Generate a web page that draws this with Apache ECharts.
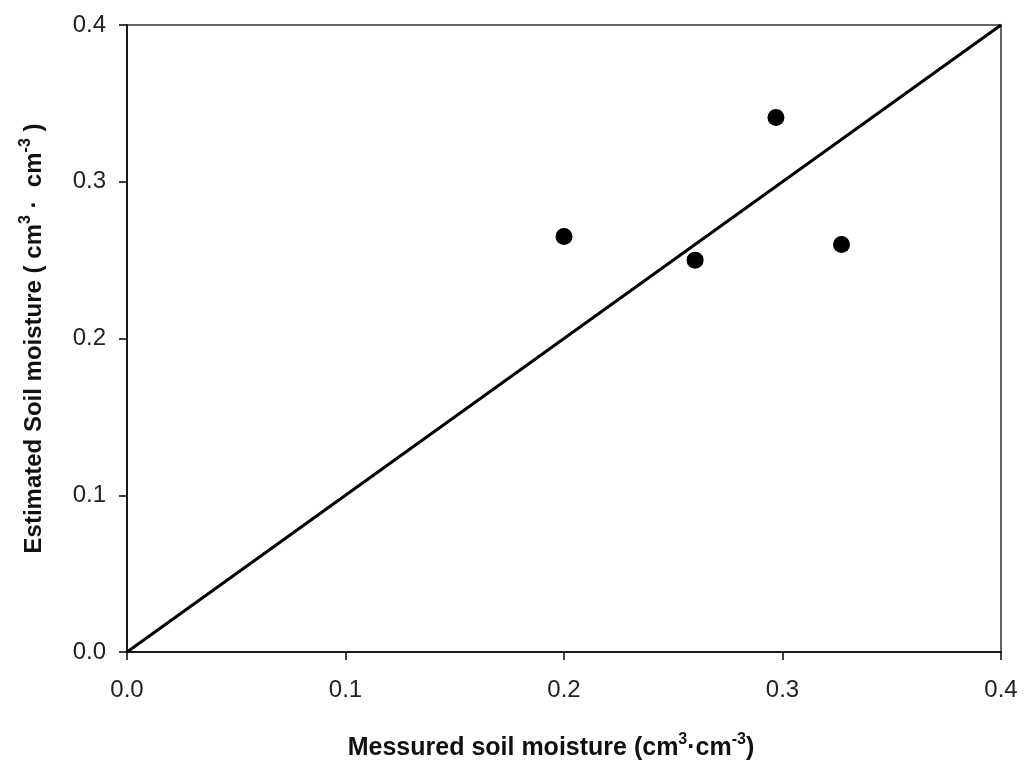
<!DOCTYPE html>
<html>
<head>
<meta charset="utf-8">
<script src="https://cdn.jsdelivr.net/npm/echarts@6/dist/echarts.min.js"></script>
<style>
  html, body { margin: 0; padding: 0; background: #fff; }
  #chart { width: 1024px; height: 772px; }
</style>
</head>
<body>
<div id="chart"></div>
<script>
// measured vs estimated soil moisture
const measured = [0.200, 0.260, 0.297, 0.327]
const estimated = [0.265, 0.250, 0.341, 0.260]
// 1:1 line ends
const lineX = [0.0, 0.4]
const lineY = [0.0, 0.4]
const tickStep = 0.1

let chart = echarts.init(document.getElementById('chart'))

let points = measured.map((v, i) => [v, estimated[i]])
let oneToOne = lineX.map((v, i) => [v, lineY[i]])

// axis title styles, sup = superscript
function titleRich(size){
    return {
        b: { fontFamily: 'Liberation Sans', fontWeight: 'bold', fontSize: size, color: '#111', lineHeight: 32 },
        sup: { fontFamily: 'Liberation Sans', fontWeight: 'bold', fontSize: 16, color: '#111', verticalAlign: 'top', lineHeight: 32, padding: [0, 0, 14, 0] }
    }
}

let tickLabel = {
    color: '#222',
    fontFamily: 'Liberation Sans',
    fontSize: 24,
    formatter: v => v.toFixed(1)
}

let option = {
    animation: false,
    grid: {
        left: 127,
        right: 23,
        top: 25,
        bottom: 120,
        containLabel: false,
        outerBoundsMode: 'none',
        show: true,
        borderColor: '#333',
        borderWidth: 1.5
    },
    xAxis: {
        type: 'value',
        min: 0,
        max: 0.4,
        interval: tickStep,
        name: '{b|Messured soil moisture (cm}{sup|3}{b|·cm}{sup|-3}{b|)}',
        nameLocation: 'middle',
        nameGap: 80,
        nameTextStyle: { rich: titleRich(25), padding: [0, 26, 0, 0] },
        axisLine: { lineStyle: { color: '#000', width: 1.5 } },
        axisTick: { show: true, inside: false, length: 8, lineStyle: { color: '#000', width: 1.5 } },
        splitLine: { show: false },
        axisLabel: Object.assign({ margin: 26 }, tickLabel)
    },
    yAxis: {
        type: 'value',
        min: 0,
        max: 0.4,
        interval: tickStep,
        name: '{b|Estimated Soil moisture ( cm}{sup|3}{b| ·  cm}{sup|-3}{b| )}',
        nameLocation: 'middle',
        nameGap: 77,
        nameRotate: 90,
        nameTextStyle: { rich: titleRich(24) },
        axisLine: { lineStyle: { color: '#000', width: 1.5 } },
        axisTick: { show: true, inside: false, length: 8, lineStyle: { color: '#000', width: 1.5 } },
        splitLine: { show: false },
        axisLabel: Object.assign({ margin: 21 }, tickLabel)
    },
    series: [{
        type: 'line',
        data: oneToOne,
        symbol: 'none',
        lineStyle: { color: '#000', width: 3 },
        z: 2
    }, {
        type: 'scatter',
        data: points,
        symbol: 'circle',
        symbolSize: 17,
        itemStyle: { color: '#000', opacity: 1 },
        z: 3
    }]
}

chart.setOption(option)
</script>
</body>
</html>
